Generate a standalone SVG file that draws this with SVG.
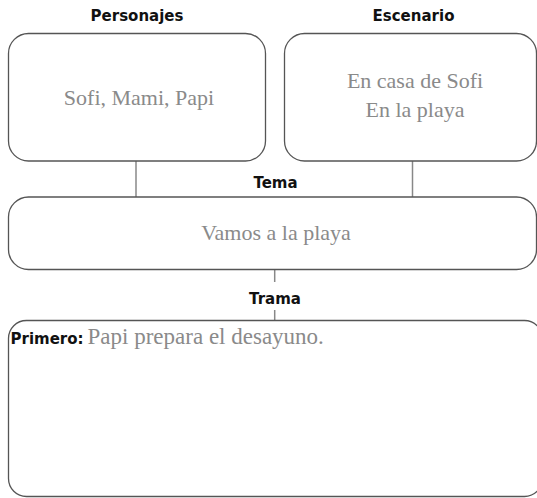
<svg xmlns="http://www.w3.org/2000/svg" width="537" height="498" viewBox="0 0 537 498">
<style>
.box{fill:#fff;stroke:#555;stroke-width:1.3}
.lab{font-family:"DejaVu Sans",sans-serif;font-weight:700;font-size:15px;fill:#111;text-anchor:middle}
.val{font-family:"Liberation Serif",serif;font-size:22px;fill:#8a8a8a;text-anchor:middle}
.con{stroke:#888;stroke-width:1.5;fill:none}
</style>
<rect width="537" height="498" fill="#fff"/>
<g id="connectors">
<line class="con" x1="136" y1="161" x2="136" y2="197"/>
<line class="con" x1="412.5" y1="161" x2="412.5" y2="197"/>
<line class="con" x1="274.7" y1="270" x2="274.7" y2="282"/>
<line class="con" x1="274.7" y1="310" x2="274.7" y2="321"/>
</g>
<g id="personajes">
<text class="lab" x="137" y="21">Personajes</text>
<rect class="box" x="8.5" y="33.5" width="257" height="127.5" rx="20"/>
<text class="val" x="139" y="105">Sofi, Mami, Papi</text>
</g>
<g id="escenario">
<text class="lab" x="413.5" y="21">Escenario</text>
<rect class="box" x="284.5" y="33.5" width="252" height="127.5" rx="20"/>
<text class="val" x="415" y="88">En casa de Sofi</text>
<text class="val" x="415" y="117">En la playa</text>
</g>
<g id="tema">
<text class="lab" x="275.5" y="188">Tema</text>
<rect class="box" x="8.5" y="197" width="528" height="72.5" rx="20"/>
<text class="val" x="276" y="240">Vamos a la playa</text>
</g>
<g id="trama">
<text class="lab" x="275" y="304">Trama</text>
<rect class="box" x="8.5" y="320.5" width="534" height="176" rx="18"/>
<text x="10.5" y="344" style="font-family:'DejaVu Sans',sans-serif;font-weight:700;font-size:15px;fill:#111">Primero:<tspan dx="4" style="font-family:'Liberation Serif',serif;font-weight:400;font-size:23px;fill:#8a8a8a">Papi prepara el desayuno.</tspan></text>
</g>
</svg>
